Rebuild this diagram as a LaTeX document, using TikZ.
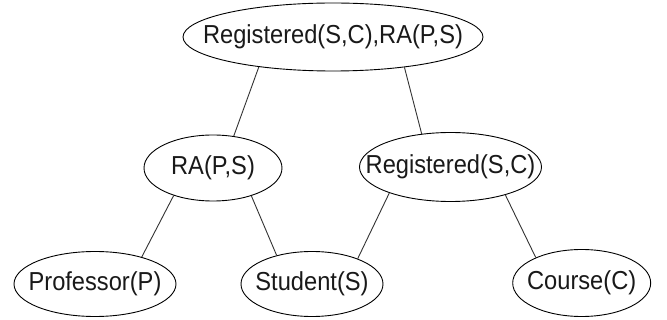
\documentclass[tikz,border=0pt]{standalone}
\usepackage{fontspec}
\setmainfont{Liberation Sans}
\usetikzlibrary{shapes.geometric}
\newcommand\lbl[1]{\makebox[0pt]{\scalebox{0.91}[1]{#1}}}
\tikzset{
  ent/.style={ellipse, draw=black, line width=0.9pt, inner sep=0pt,
    font=\fontsize{26}{28}\selectfont, text=black!90},
  edge/.style={draw=black!80, line width=0.9pt}
}
\begin{document}
\begin{tikzpicture}[x=1pt,y=-1pt]
\useasboundingbox[fill=white] (0,0) rectangle (667,320);
\node[ent, minimum width=300pt, minimum height=68pt] (top) at (333,37) {\lbl{Registered(S,C),RA(P,S)}};
\node[ent, minimum width=138pt, minimum height=66pt] (ra) at (213,168) {\lbl{RA(P,S)}};
\node[ent, minimum width=182pt, minimum height=69pt] (reg) at (450.5,167) {\lbl{Registered(S,C)}};
\node[ent, minimum width=162pt, minimum height=65pt] (prof) at (95,284) {\lbl{Professor(P)}};
\node[ent, minimum width=142pt, minimum height=65pt] (stud) at (312,284) {\lbl{Student(S)}};
\node[ent, minimum width=138pt, minimum height=67pt] (course) at (581.7,283) {\lbl{Course(C)}};
\draw[edge] (top.202.1) -- (ra.57.1);
\draw[edge] (top.337.3) -- (reg.131.1);
\draw[edge] (ra.215.9) -- (prof.30.6);
\draw[edge] (ra.324.8) -- (stud.141.7);
\draw[edge] (reg.203.7) -- (stud.29.6);
\draw[edge] (reg.333.2) -- (course.151.5);
\end{tikzpicture}
\end{document}
